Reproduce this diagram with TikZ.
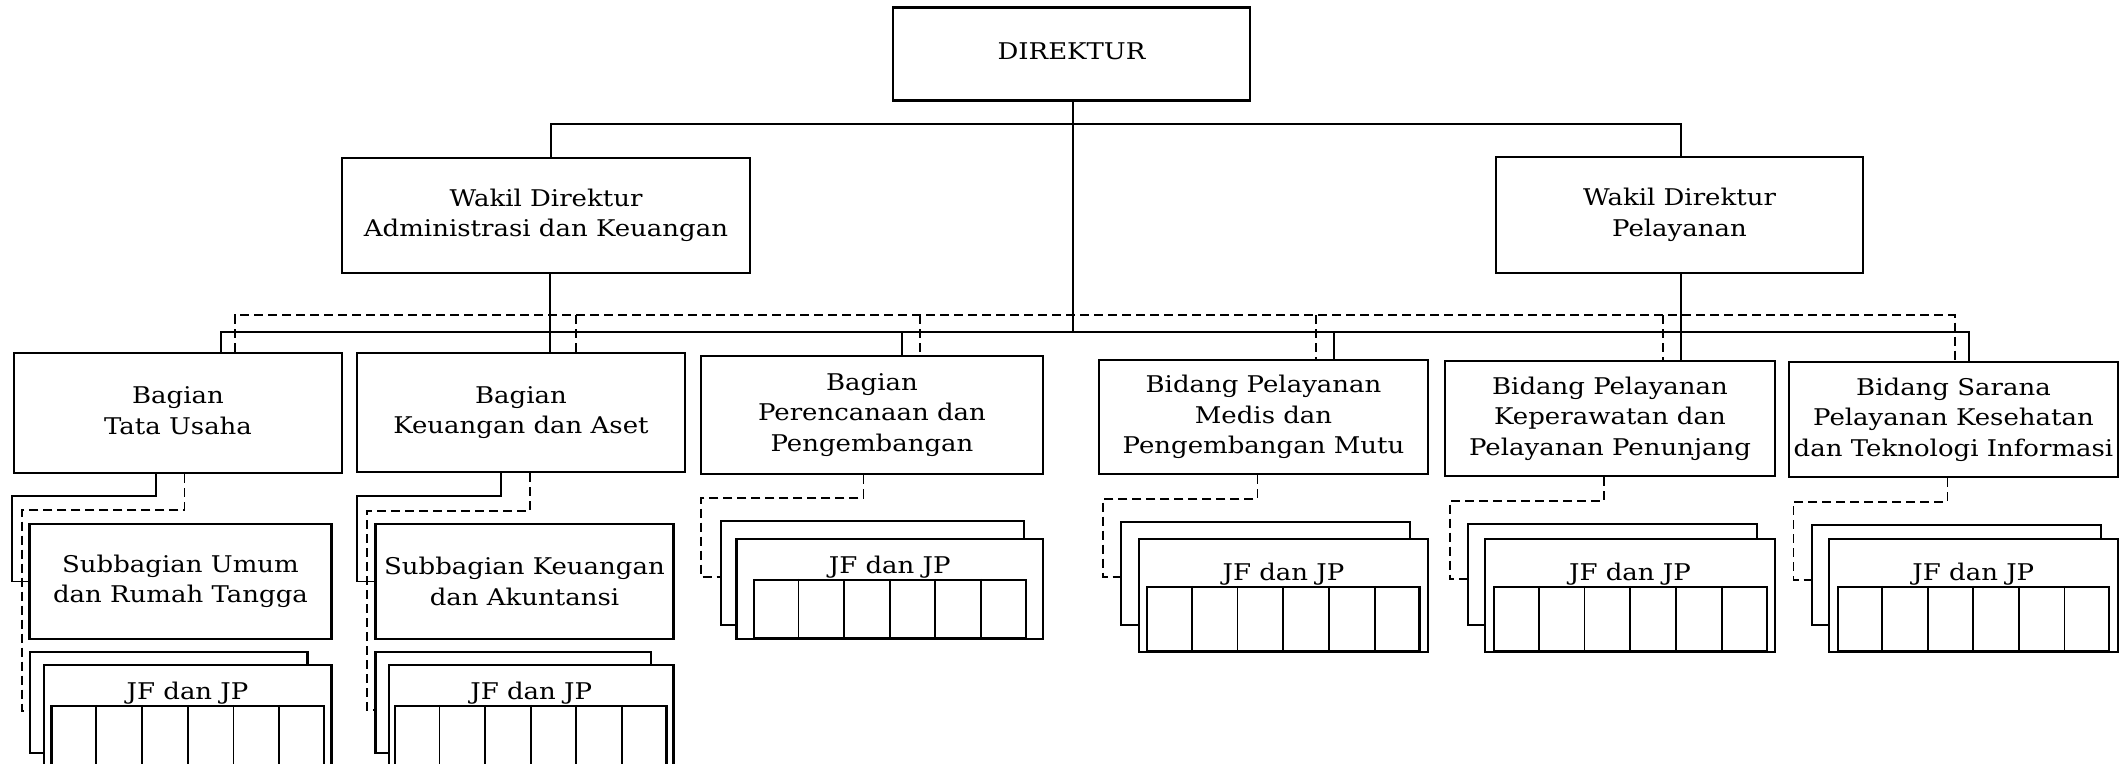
\documentclass[tikz,border=0pt]{standalone}
\usepackage{fontspec}
\setmainfont[FakeStretch=1.13]{DejaVu Serif}
\usetikzlibrary{calc}
\tikzset{
  box/.style={draw, line width=2.2pt, align=center, inner sep=0pt, fill=white,
    font={\fontsize{23}{30.5}\selectfont}},
  conn/.style={line width=1.9pt},
  dconn/.style={line width=1.9pt, dash pattern=on 9pt off 5pt},
  lbl/.style={anchor=base, inner sep=0pt, font={\fontsize{23}{30.5}\selectfont}},
}
\begin{document}
\begin{tikzpicture}[x=1pt,y=-1pt]
\useasboundingbox (0,0) rectangle (2128,763);
% top level
\node[box, minimum width=357, minimum height=93] (dir) at (1071.5,54) {\raisebox{6pt}{DIREKTUR}};
\node[box, minimum width=408, minimum height=115] (wak) at (546,215.5) {Wakil Direktur\\Administrasi dan Keuangan};
\node[box, minimum width=367, minimum height=116] (wpl) at (1679.5,215) {Wakil Direktur\\Pelayanan};
% second level
\node[box, minimum width=328, minimum height=120] (btu) at (178,413) {\raisebox{3pt}{\begin{tabular}{@{}c@{}}Bagian\\Tata Usaha\end{tabular}}};
\node[box, minimum width=328, minimum height=119] (bka) at (521,412.5) {Bagian\\Keuangan dan Aset};
\node[box, minimum width=341.5, minimum height=118] (bpp) at (872,415) {Bagian\\Perencanaan dan\\Pengembangan};
\node[box, minimum width=329, minimum height=114] (bpm) at (1263.5,417) {Bidang Pelayanan\\Medis dan\\Pengembangan Mutu};
\node[box, minimum width=329.5, minimum height=115] (bpk) at (1610,418.5) {Bidang Pelayanan\\Keperawatan dan\\Pelayanan Penunjang};
\node[box, minimum width=329, minimum height=115] (bst) at (1953.5,419.5) {Bidang Sarana\\Pelayanan Kesehatan\\dan Teknologi Informasi};
% sub sections
\node[box, minimum width=302, minimum height=115] (sub1) at (180.5,581.5) {Subbagian Umum\\dan Rumah Tangga};
\node[box, minimum width=298, minimum height=115] (sub2) at (524.5,581.5) {Subbagian Keuangan\\dan Akuntansi};
% JF dan JP groups
\foreach \n/\bl/\bt/\br/\bb/\fl/\ft/\fr/\fb/\gl/\gt/\gr/\gb in {
  1/30/652/307.5/753/43.6/665/331.5/785/51.4/706/324/785,
  2/375.5/652/651/753/389/665/673.5/785/395/706/666.5/785,
  3/720.6/521/1024/625/736.4/539/1043/639.3/754/580/1025.6/638,
  4/1121/522/1410/625/1139/539/1428/652/1147/587/1419.5/651,
  5/1468/524/1757/625/1485/539/1775/652/1494/587/1766.6/651,
  6/1811.6/525/2100.6/625/1828.7/539/2118/652/1837.6/587/2109/651}{
  \node[box, minimum width={(\br-\bl)*1pt}, minimum height={(\bb-\bt)*1pt}] (jb\n) at ({(\bl+\br)/2},{(\bt+\bb)/2}) {};
  \node[box, minimum width={(\fr-\fl)*1pt}, minimum height={(\fb-\ft)*1pt}] (jf\n) at ({(\fl+\fr)/2},{(\ft+\fb)/2}) {};
  \node[box, minimum width={(\gr-\gl)*1pt}, minimum height={(\gb-\gt)*1pt}] (jg\n) at ({(\gl+\gr)/2},{(\gt+\gb)/2}) {};
  \node[lbl] (jt\n) at ({(\fl+\fr)/2},{\gt-7}) {JF dan JP};
  \foreach \k in {1,...,5}{
    \draw[conn] ($(jg\n.north west)!\k/6!(jg\n.north east)$) -- ($(jg\n.south west)!\k/6!(jg\n.south east)$);
  }
}
% top connectors
\draw[conn] (wak.north -| 551,0) -- (551,124) -- (1681,124) -- (wpl.north -| 1681,0);
\draw[conn] (dir.south -| 1073,0) -- (1073,332);
% solid bus
\draw[conn] (btu.north -| 221,0) -- (221,332) -- (1969,332) -- (bst.north -| 1969,0);
\draw[conn] (wak.south -| 550,0) -- (bka.north -| 550,0);
\draw[conn] (902,332) -- (bpp.north -| 902,0);
\draw[conn] (1334,332) -- (bpm.north -| 1334,0);
\draw[conn] (wpl.south -| 1681,0) -- (bpk.north -| 1681,0);
% dashed bus
\draw[dconn] (btu.north -| 235,0) -- (235,315) -- (1954.6,315) -- (bst.north -| 1954.6,0);
\draw[dconn] (576,315) -- (bka.north -| 576,0);
\draw[dconn] (920,315) -- (bpp.north -| 920,0);
\draw[dconn] (1316,315) -- (bpm.north -| 1316,0);
\draw[dconn] (1663,315) -- (bpk.north -| 1663,0);
% subsection connectors
\draw[conn] (btu.south -| 155.6,0) |- (12.4,496) |- (sub1.west);
\draw[conn] (bka.south -| 501,0) |- (357,496) |- (sub2.west);
% dashed connectors to JF groups
\draw[dconn] (btu.south -| 184.5,0) |- (22,510) |- (jb1.west |- 0,711);
\draw[dconn] (bka.south -| 530,0) |- (367,510.7) |- (jb2.west |- 0,710);
\draw[dconn] (bpp.south -| 863.5,0) |- (701,498) |- (jb3.west |- 0,577);
\draw[dconn] (bpm.south -| 1257.5,0) |- (1103,499) |- (jb4.west |- 0,577);
\draw[dconn] (bpk.south -| 1604,0) |- (1449.6,500.7) |- (jb5.west |- 0,579);
\draw[dconn] (bst.south -| 1947.5,0) |- (1793.5,501.7) |- (jb6.west |- 0,580);
\end{tikzpicture}
\end{document}
